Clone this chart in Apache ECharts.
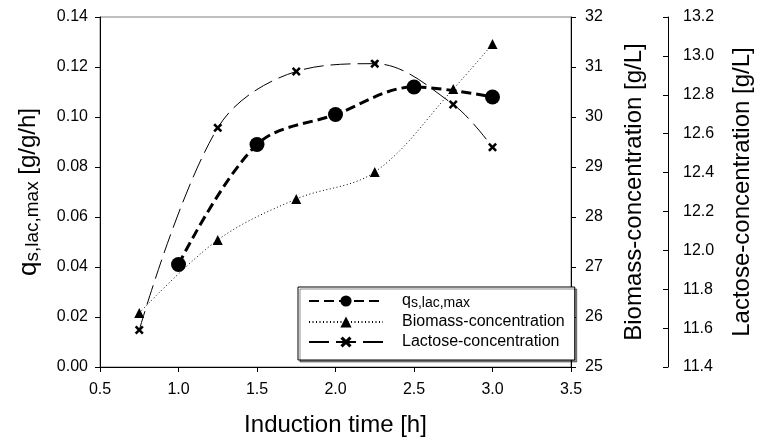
<!DOCTYPE html>
<html>
<head>
<meta charset="utf-8">
<script src="https://cdn.jsdelivr.net/npm/echarts@6/dist/echarts.min.js"></script>
<style>
  html, body { margin: 0; padding: 0; background: #fff; }
  #chart { width: 762px; height: 444px; }
</style>
</head>
<body>
<div id="chart"></div>
<script>
// data
var qTime = [1.0, 1.5, 2.0, 2.5, 3.0];
var qValues = [0.041, 0.089, 0.101, 0.112, 0.108];

var bioTime = [0.75, 1.25, 1.75, 2.25, 2.75, 3.0];
var bioValues = [26.08, 27.54, 28.36, 28.9, 30.56, 31.46];

var lacTime = [0.75, 1.25, 1.75, 2.25, 2.75, 3.0];
var lacValues = [11.59, 12.63, 12.92, 12.96, 12.75, 12.53];

var seriesNames = ['qs,lac,max', 'Biomass-concentration', 'Lactose-concentration'];

function pairs(xs, ys) {
    var out = [];
    for (var i = 0; i < xs.length; i++) out.push([xs[i], ys[i]]);
    return out;
}

var crossPath = 'path://M0,2 L2,0 L5,3 L8,0 L10,2 L7,5 L10,8 L8,10 L5,7 L2,10 L0,8 L3,5 Z';
var font = '"Liberation Sans", Arial, sans-serif';

var chart = echarts.init(document.getElementById('chart'));

var option = {
    animation: false,
    textStyle: { fontFamily: font, color: '#000' },
    grid: {
        left: 100, right: 182, top: 17, bottom: 77,
        show: true, borderColor: '#808080', borderWidth: 1
    },
    legend: {
        left: 298, top: 287,
        orient: 'vertical',
        data: seriesNames,
        itemWidth: 74, itemHeight: 14, itemGap: 4,
        padding: [6, 10, 10, 10],
        borderColor: '#000', borderWidth: 1,
        backgroundColor: '#fff',
        shadowColor: 'rgba(0,0,0,0.45)', shadowOffsetX: 2, shadowOffsetY: 2, shadowBlur: 0,
        formatter: function (name) {
            if (name === 'qs,lac,max') return '{q|q}{s|s,lac,max}';
            return name;
        },
        textStyle: {
            fontFamily: font, fontSize: 16, color: '#000',
            padding: [0, 0, 0, 14],
            rich: {
                q: { fontFamily: font, fontSize: 16, color: '#000' },
                s: { fontFamily: font, fontSize: 14, color: '#000', verticalAlign: 'bottom', padding: [4, 0, 0, 0] }
            }
        }
    },
    xAxis: {
        type: 'value',
        min: 0.5, max: 3.5, interval: 0.5,
        name: 'Induction time [h]',
        nameLocation: 'middle',
        nameGap: 46,
        nameTextStyle: { fontFamily: font, fontSize: 24, color: '#000' },
        axisLine: { show: true, lineStyle: { color: '#000', width: 1 } },
        axisTick: { show: true, length: 5, lineStyle: { color: '#000' } },
        axisLabel: {
            margin: 15, fontSize: 16, color: '#000', fontFamily: font,
            formatter: function (v) { return v.toFixed(1); }
        },
        splitLine: { show: false }
    },
    yAxis: [
        {
            type: 'value',
            position: 'left',
            min: 0, max: 0.14, interval: 0.02,
            name: '{q|q}{s|s,lac,max} [g/g/h]',
            nameLocation: 'middle',
            nameGap: 58,
            nameTextStyle: {
                fontFamily: font, fontSize: 24, color: '#000',
                rich: {
                    q: { fontFamily: font, fontSize: 26, color: '#000' },
                    s: { fontFamily: font, fontSize: 19, color: '#000', verticalAlign: 'bottom', padding: [8, 0, 0, 0] }
                }
            },
            axisLine: { show: true, lineStyle: { color: '#000', width: 1 } },
            axisTick: { show: true, length: 5, lineStyle: { color: '#000' } },
            axisLabel: {
                margin: 12, fontSize: 16, color: '#000', fontFamily: font,
                formatter: function (v) { return v.toFixed(2); }
            },
            splitLine: { show: false }
        },
        {
            type: 'value',
            position: 'right',
            min: 25, max: 32, interval: 1,
            name: 'Biomass-concentration [g/L]',
            nameLocation: 'middle',
            nameGap: 51,
            nameTextStyle: { fontFamily: font, fontSize: 24, color: '#000' },
            axisLine: { show: true, lineStyle: { color: '#000', width: 1 } },
            axisTick: { show: true, length: 5, lineStyle: { color: '#000' } },
            axisLabel: { margin: 14, fontSize: 16, color: '#000', fontFamily: font },
            splitLine: { show: false }
        },
        {
            type: 'value',
            position: 'right',
            offset: 97,
            min: 11.4, max: 13.2, interval: 0.2,
            name: 'Lactose-concentration [g/L]',
            nameLocation: 'middle',
            nameGap: 62,
            nameTextStyle: { fontFamily: font, fontSize: 24, color: '#000' },
            axisLine: { show: true, lineStyle: { color: '#000', width: 1 } },
            axisTick: { show: true, inside: true, length: 5, lineStyle: { color: '#000' } },
            axisLabel: {
                margin: 15, fontSize: 16, color: '#000', fontFamily: font,
                formatter: function (v) { return v.toFixed(1); }
            },
            splitLine: { show: false }
        }
    ],
    series: [
        {
            name: seriesNames[1],
            type: 'line',
            yAxisIndex: 1,
            smooth: 0.35,
            data: pairs(bioTime, bioValues),
            symbol: 'triangle',
            symbolSize: 10,
            itemStyle: { color: '#000' },
            lineStyle: { color: '#000', width: 1, type: [1, 2.5] },
            z: 2
        },
        {
            name: seriesNames[2],
            type: 'line',
            yAxisIndex: 2,
            smooth: 0.35,
            data: pairs(lacTime, lacValues),
            symbol: crossPath,
            symbolSize: 9,
            itemStyle: { color: '#000' },
            lineStyle: { color: '#000', width: 1, type: [20, 7] },
            z: 3
        },
        {
            name: seriesNames[0],
            type: 'line',
            yAxisIndex: 0,
            smooth: 0.35,
            data: pairs(qTime, qValues),
            symbol: 'circle',
            symbolSize: 15,
            itemStyle: { color: '#000' },
            lineStyle: { color: '#000', width: 3, type: [10, 5] },
            z: 4
        }
    ]
};

chart.setOption(option);
</script>
</body>
</html>
